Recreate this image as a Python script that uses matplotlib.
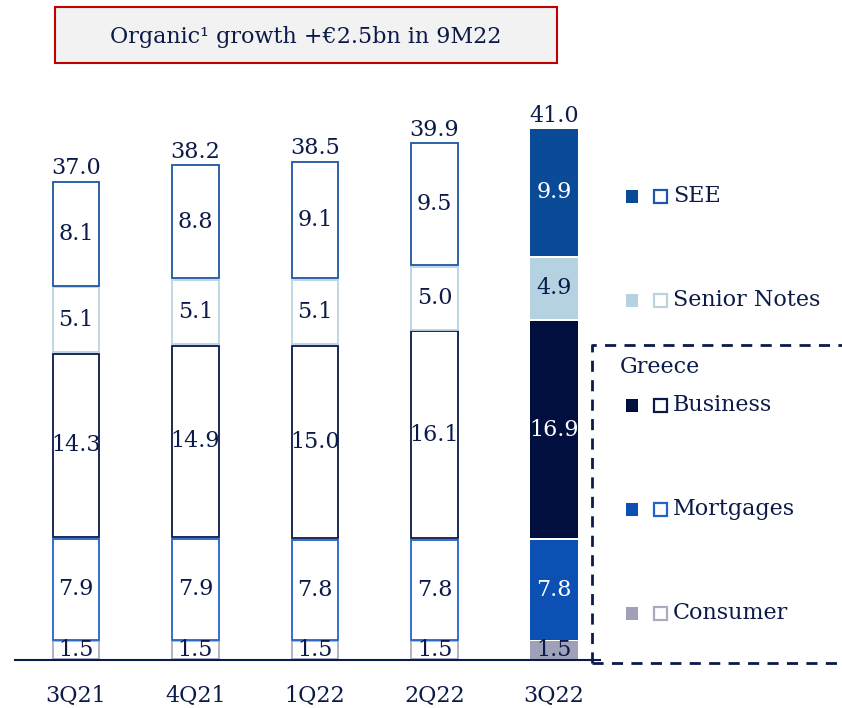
import matplotlib
matplotlib.use('Agg')
import matplotlib.pyplot as plt
from matplotlib.patches import Rectangle

plt.rcParams['font.family'] = ['DejaVu Serif']

quarters = ['3Q21', '4Q21', '1Q22', '2Q22', '3Q22']
consumer = [1.5, 1.5, 1.5, 1.5, 1.5]
mortgages = [7.9, 7.9, 7.8, 7.8, 7.8]
business = [14.3, 14.9, 15.0, 16.1, 16.9]
senior = [5.1, 5.1, 5.1, 5.0, 4.9]
see = [8.1, 8.8, 9.1, 9.5, 9.9]
totals = [37.0, 38.2, 38.5, 39.9, 41.0]

navy = '#0B1A48'
series = [
    (consumer, '#9EA1B8', '#A9ABC0', navy),
    (mortgages, '#0B50B2', '#2164C6', 'white'),
    (business, '#000F3E', '#0C1846', 'white'),
    (senior, '#B5D2E2', '#B8D4E3', navy),
    (see, '#0A4B98', '#1E57A2', 'white'),
]

W, H = 842, 708
fig = plt.figure(figsize=(W / 100, H / 100), dpi=100)
fs = 16

# main axes: y=0 at pixel 660, 12.97 px per unit, bar centres 76 + 119.5*i
px_unit = 12.97
ytop = 50
ax = fig.add_axes([0, (H - 660) / H, 1, ytop * px_unit / H])
ax.set_ylim(0, ytop)
ax.set_xlim(-76 / 119.5, (W - 76) / 119.5)
ax.axis('off')

width = 0.40
gap = 0.14
n = len(quarters)
for i in range(n):
    bottom = 0
    last = i == n - 1
    for vals, fill, edge, tcol in series:
        v = vals[i]
        if last:
            ax.bar(i, v - gap, width, bottom=bottom + gap / 2, color=fill,
                   edgecolor='none')
            tc = tcol
        else:
            ax.bar(i, v - gap, width * 0.98, bottom=bottom + gap / 2,
                   facecolor='white', edgecolor=edge, linewidth=1.3)
            tc = navy
        ax.text(i, bottom + v / 2, f'{v:.1f}', ha='center', va='center',
                fontsize=fs, color=tc)
        bottom += v
    ax.text(i, totals[i] + 0.1, f'{totals[i]:.1f}', ha='center',
            va='bottom', fontsize=fs, color=navy)
    ax.text(i, -1.9, quarters[i], ha='center', va='top', fontsize=fs,
            color=navy)

ax.plot([-61 / 119.5, (600 - 76) / 119.5], [0, 0], color=navy, lw=1.5,
        clip_on=False)

# overlay in pixel coordinates for title box and legend
ov = fig.add_axes([0, 0, 1, 1])
ov.set_xlim(0, W)
ov.set_ylim(H, 0)
ov.axis('off')

ov.add_patch(Rectangle((55, 7), 502, 56, facecolor='#F2F2F2',
                       edgecolor='#C00000', lw=1.5))
ov.text(306, 37, 'Organic¹ growth +€2.5bn in 9M22', ha='center',
        va='center', fontsize=fs, color=navy)

ov.plot([592, 592, W + 5], [663, 345, 345], color=navy, lw=2,
        ls=(0, (4, 3)))
ov.plot([592, W + 5], [663, 663], color=navy, lw=2, ls=(0, (4, 3)))

legend_items = [
    ('SEE', 196, series[4]),
    ('Senior Notes', 300, series[3]),
    ('Business', 405, series[2]),
    ('Mortgages', 509, series[1]),
    ('Consumer', 613, series[0]),
]
for label, yc, (_, fill, edge, _) in legend_items:
    ov.add_patch(Rectangle((626, yc - 6.5), 12, 13, facecolor=fill,
                           edgecolor='none'))
    ov.add_patch(Rectangle((654, yc - 6.5), 13, 13, facecolor='white',
                           edgecolor=edge, lw=1.6))
    ov.text(673, yc, label, ha='left', va='center', fontsize=fs, color=navy)
ov.text(620, 367, 'Greece', ha='left', va='center', fontsize=fs, color=navy)

fig.savefig('out.png', dpi=100)
